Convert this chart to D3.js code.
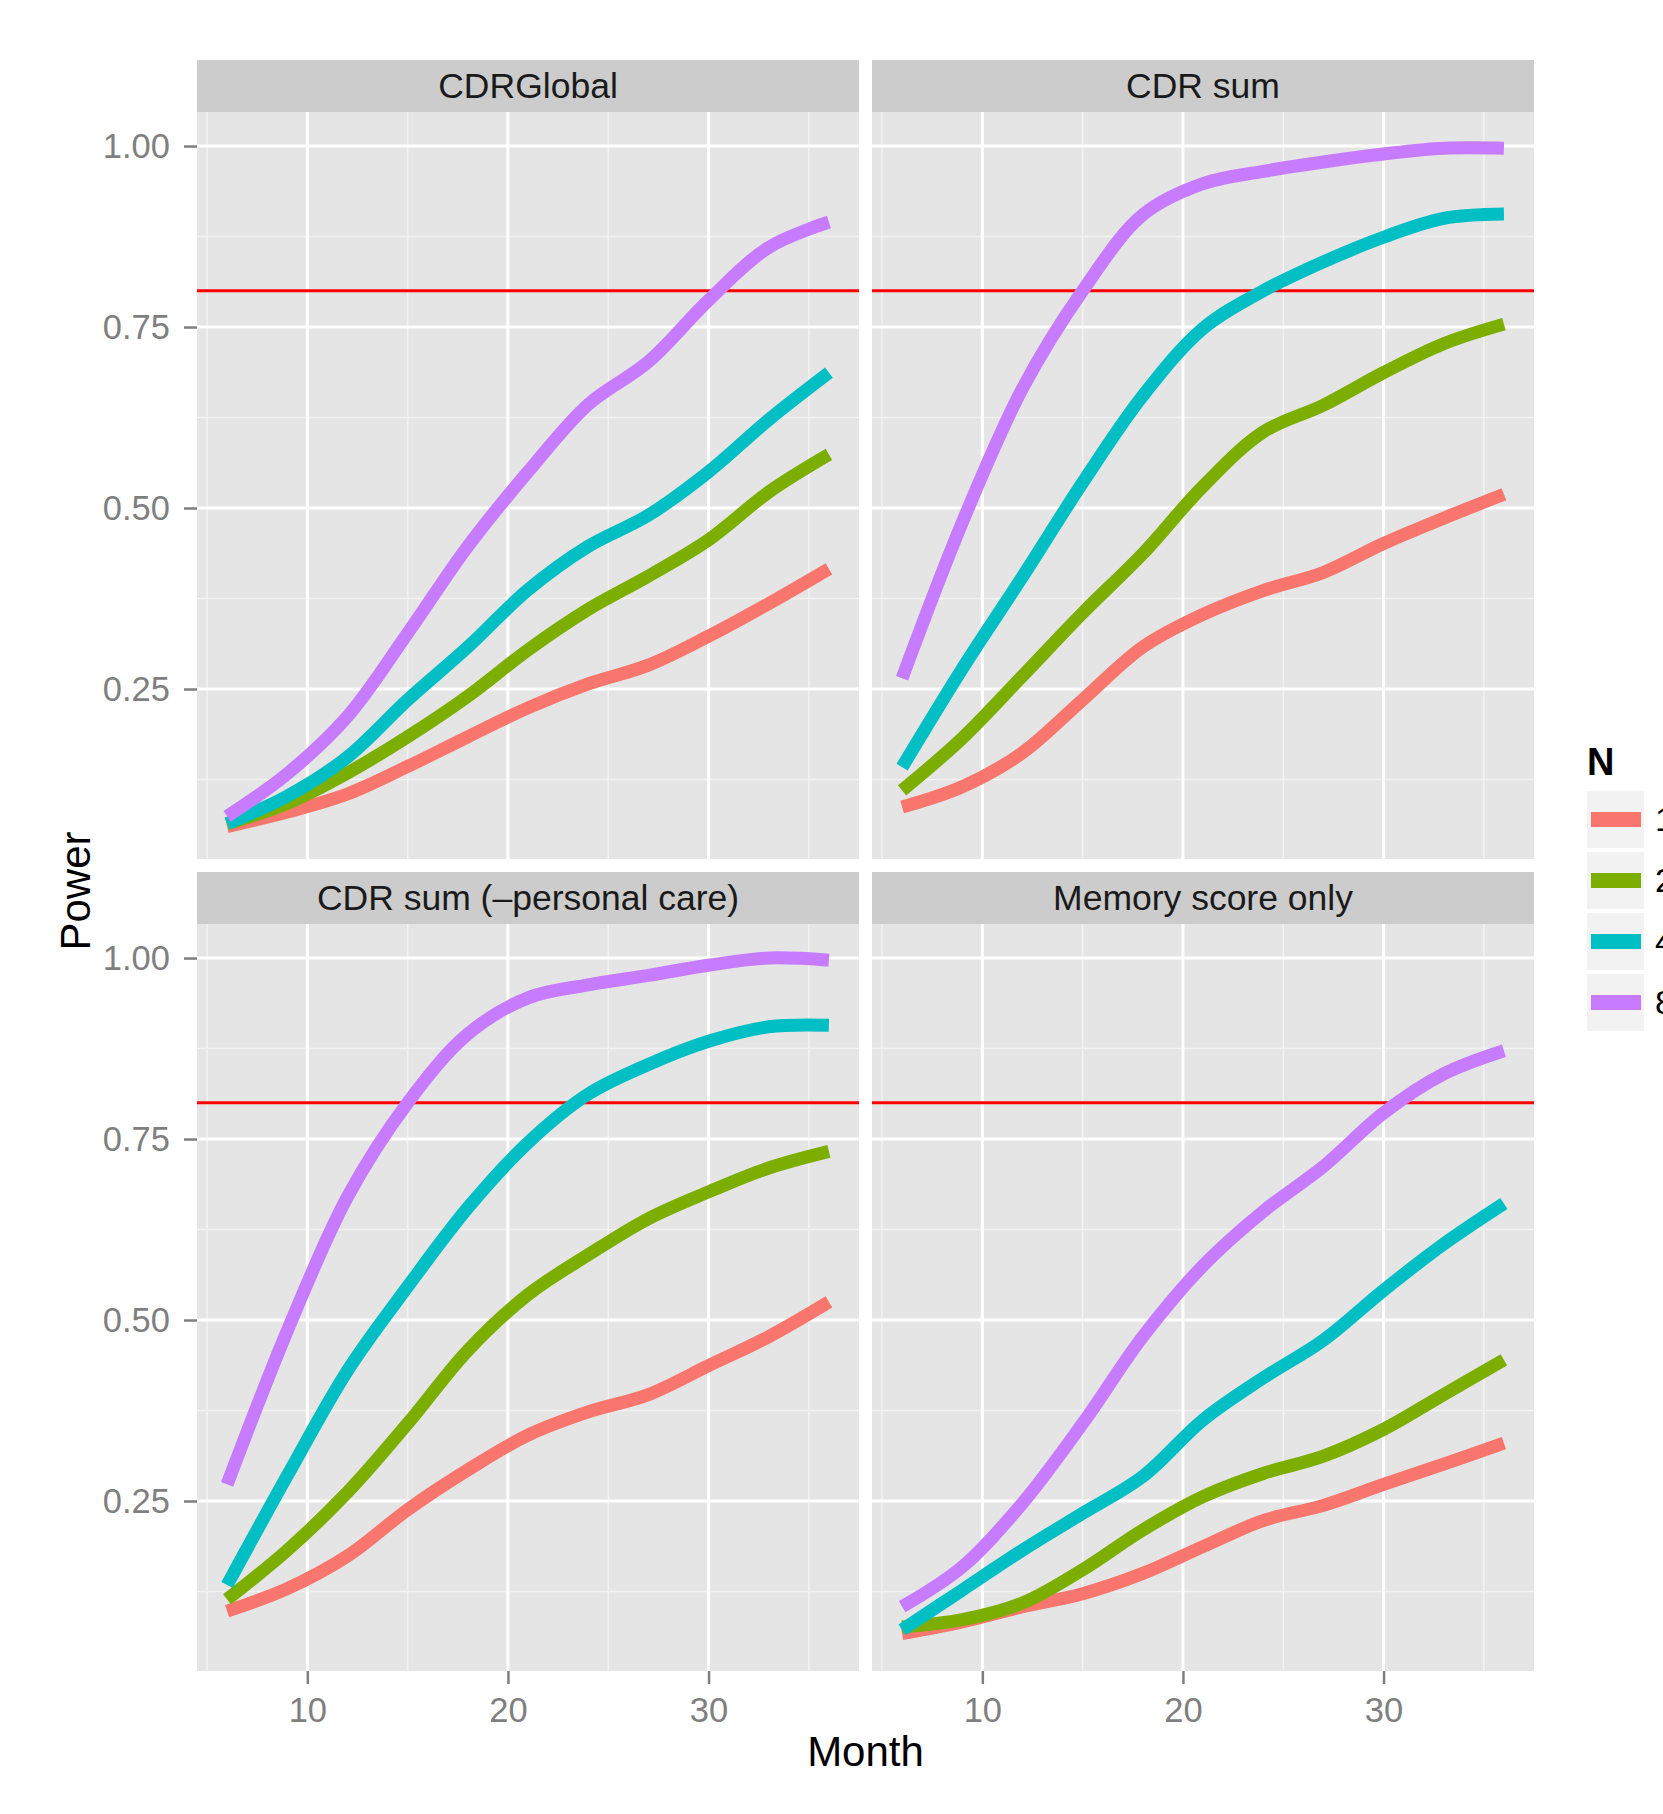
<!DOCTYPE html>
<html>
<head>
<meta charset="utf-8">
<script src="https://cdn.jsdelivr.net/npm/d3@7"></script>
<style>
  body { margin: 0; background: white; }
  text { font-family: "Liberation Sans", Arial, sans-serif; }
</style>
</head>
<body>
<svg id="chart"></svg>
<script>
// data
const months = [6, 9, 12, 15, 18, 21, 24, 27, 30, 33, 36];
const nLabels = ["100", "200", "400", "800"];
const nColors = ["#F8766D", "#7CAE00", "#00BFC4", "#C77CFF"];
const panelTitles = ["CDRGlobal", "CDR sum", "CDR sum (\u2013personal care)", "Memory score only"];
const targetPower = 0.8;
const xTicks = [10, 20, 30];
const yTicks = [0.25, 0.5, 0.75, 1.0];

// each: [N=100, N=200, N=400, N=800]
const cdrGlobal = [
  [0.060, 0.080, 0.105, 0.143, 0.184, 0.224, 0.257, 0.283, 0.323, 0.368, 0.416],
  [0.064, 0.092, 0.134, 0.184, 0.240, 0.304, 0.360, 0.406, 0.456, 0.522, 0.574],
  [0.064, 0.102, 0.156, 0.235, 0.308, 0.387, 0.447, 0.490, 0.550, 0.622, 0.687],
  [0.074, 0.133, 0.212, 0.327, 0.447, 0.550, 0.643, 0.702, 0.787, 0.860, 0.895]
];
const cdrSum = [
  [0.087, 0.115, 0.162, 0.235, 0.308, 0.353, 0.386, 0.411, 0.451, 0.486, 0.519],
  [0.110, 0.182, 0.268, 0.355, 0.437, 0.530, 0.605, 0.642, 0.687, 0.727, 0.754],
  [0.142, 0.278, 0.405, 0.535, 0.655, 0.748, 0.800, 0.840, 0.874, 0.900, 0.906],
  [0.265, 0.480, 0.665, 0.800, 0.905, 0.948, 0.965, 0.978, 0.989, 0.997, 0.997]
];
const cdrSumNoCare = [
  [0.098, 0.129, 0.174, 0.238, 0.293, 0.341, 0.373, 0.397, 0.437, 0.477, 0.525],
  [0.114, 0.182, 0.262, 0.357, 0.458, 0.535, 0.590, 0.640, 0.677, 0.710, 0.733],
  [0.134, 0.285, 0.430, 0.546, 0.655, 0.745, 0.812, 0.853, 0.885, 0.905, 0.907],
  [0.273, 0.485, 0.670, 0.800, 0.895, 0.945, 0.963, 0.976, 0.990, 1.000, 0.997]
];
const memoryOnly = [
  [0.067, 0.083, 0.104, 0.122, 0.150, 0.187, 0.223, 0.244, 0.273, 0.301, 0.330],
  [0.076, 0.086, 0.109, 0.155, 0.210, 0.256, 0.288, 0.312, 0.349, 0.397, 0.445],
  [0.072, 0.127, 0.182, 0.233, 0.284, 0.362, 0.420, 0.472, 0.541, 0.605, 0.661],
  [0.104, 0.159, 0.247, 0.357, 0.477, 0.575, 0.650, 0.712, 0.786, 0.840, 0.872]
];
const panelData = [cdrGlobal, cdrSum, cdrSumNoCare, memoryOnly];

const width = 1663, height = 1814;
const panelW = 662, panelH = 747, stripH = 52;
const panelX = [197, 872];
const panelY = [112, 924];

const svg = d3.select("#chart")
    .attr("width", width)
    .attr("height", height)
    .style("background-color", "white");

const xScale = d3.scaleLinear().domain([4.5, 37.5]).range([0, panelW]);
const yScale = d3.scaleLinear().domain([0.0152, 1.047]).range([panelH, 0]);

const line = d3.line()
    .x((d, i) => xScale(months[i]))
    .y(d => yScale(d))
    .curve(d3.curveCatmullRom.alpha(0.5));

panelData.forEach((series, p) => {
    const col = p % 2, row = Math.floor(p / 2);
    const px = panelX[col], py = panelY[row];

    // strip
    svg.append("rect")
        .attr("x", px).attr("y", py - stripH)
        .attr("width", panelW).attr("height", stripH)
        .attr("fill", "#cccccc");
    svg.append("text")
        .attr("x", px + panelW / 2).attr("y", py - stripH / 2)
        .attr("dy", "0.35em")
        .attr("text-anchor", "middle")
        .style("font-size", "35.5px")
        .style("fill", "#1a1a1a")
        .text(panelTitles[p]);

    const g = svg.append("g").attr("transform", "translate(" + px + "," + py + ")");

    g.append("rect")
        .attr("width", panelW).attr("height", panelH)
        .attr("fill", "#e5e5e5");

    // minor grid
    g.selectAll("line.minorx")
        .data([5, 15, 25, 35])
        .join("line")
        .attr("x1", d => xScale(d)).attr("x2", d => xScale(d))
        .attr("y1", 0).attr("y2", panelH)
        .attr("stroke", "#f2f2f2").attr("stroke-width", 1.5);
    g.selectAll("line.minory")
        .data([0.125, 0.375, 0.625, 0.875])
        .join("line")
        .attr("y1", d => yScale(d)).attr("y2", d => yScale(d))
        .attr("x1", 0).attr("x2", panelW)
        .attr("stroke", "#f2f2f2").attr("stroke-width", 1.5);

    // major grid
    g.selectAll("line.majorx")
        .data(xTicks)
        .join("line")
        .attr("x1", d => xScale(d)).attr("x2", d => xScale(d))
        .attr("y1", 0).attr("y2", panelH)
        .attr("stroke", "white").attr("stroke-width", 3);
    g.selectAll("line.majory")
        .data(yTicks)
        .join("line")
        .attr("y1", d => yScale(d)).attr("y2", d => yScale(d))
        .attr("x1", 0).attr("x2", panelW)
        .attr("stroke", "white").attr("stroke-width", 3);

    // 80% power line
    g.append("line")
        .attr("x1", 0).attr("x2", panelW)
        .attr("y1", yScale(targetPower)).attr("y2", yScale(targetPower))
        .attr("stroke", "red").attr("stroke-width", 3);

    g.selectAll("path.series")
        .data(series)
        .join("path")
        .attr("class", "series")
        .attr("d", line)
        .attr("fill", "none")
        .attr("stroke", (d, i) => nColors[i])
        .attr("stroke-width", 13)
        .attr("stroke-linecap", "butt")
        .attr("stroke-linejoin", "round");

    if (row == 1) {
        const ax = g.append("g")
            .attr("transform", "translate(0," + panelH + ")")
            .call(d3.axisBottom(xScale).tickValues(xTicks).tickSize(13).tickPadding(14));
        ax.select(".domain").remove();
        ax.selectAll("line").attr("stroke", "#7f7f7f").attr("stroke-width", 2.5);
        ax.selectAll("text").style("font-size", "34.5px").style("fill", "#7f7f7f")
            .style("font-family", "Liberation Sans, Arial, sans-serif");
    }
    if (col == 0) {
        const ay = g.append("g")
            .call(d3.axisLeft(yScale).tickValues(yTicks).tickFormat(d3.format(".2f")).tickSize(13).tickPadding(14));
        ay.select(".domain").remove();
        ay.selectAll("line").attr("stroke", "#7f7f7f").attr("stroke-width", 2.5);
        ay.selectAll("text").style("font-size", "34.5px").style("fill", "#7f7f7f")
            .style("font-family", "Liberation Sans, Arial, sans-serif");
    }
});

// axis titles
svg.append("text")
    .attr("x", (panelX[0] + panelX[1] + panelW) / 2)
    .attr("y", 1751)
    .attr("dy", "0.35em")
    .attr("text-anchor", "middle")
    .style("font-size", "42px")
    .text("Month");

svg.append("text")
    .attr("transform", "translate(75,891) rotate(-90)")
    .attr("dy", "0.35em")
    .attr("text-anchor", "middle")
    .style("font-size", "42px")
    .text("Power");

// legend
const legend = svg.append("g").attr("transform", "translate(1587,0)");
legend.append("text")
    .attr("x", 0).attr("y", 775)
    .style("font-size", "38px")
    .style("font-weight", "bold")
    .text("N");

const keys = legend.selectAll("g.key")
    .data(nLabels)
    .join("g")
    .attr("class", "key")
    .attr("transform", (d, i) => "translate(0," + (791 + i * 61) + ")");
keys.append("rect")
    .attr("width", 57).attr("height", 57)
    .attr("fill", "#f2f2f2");
keys.append("line")
    .attr("x1", 4).attr("x2", 54)
    .attr("y1", 28.5).attr("y2", 28.5)
    .attr("stroke", (d, i) => nColors[i])
    .attr("stroke-width", 15);
keys.append("text")
    .attr("x", 68).attr("y", 28.5)
    .attr("dy", "0.35em")
    .style("font-size", "34px")
    .text(d => d);
</script>
</body>
</html>
